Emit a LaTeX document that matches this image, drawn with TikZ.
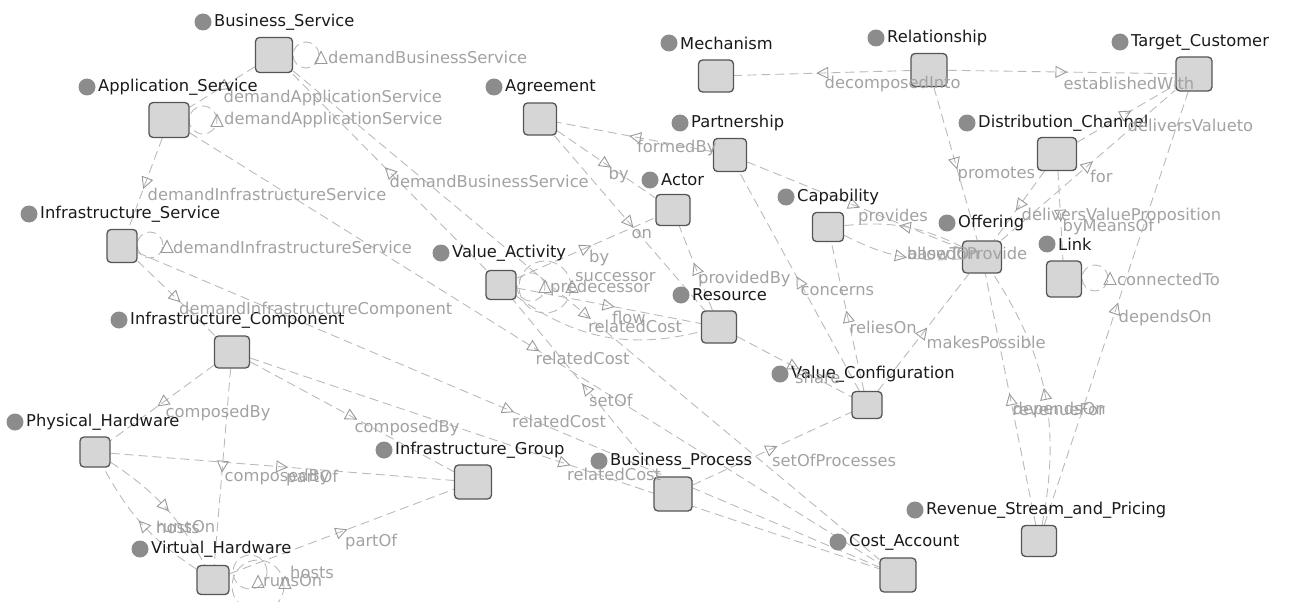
\documentclass[tikz,border=0pt]{standalone}
\usepackage{fontspec}
\setmainfont{DejaVu Sans}
\usetikzlibrary{arrows.meta,decorations.markings,calc}
\definecolor{boxf}{HTML}{D6D6D6}
\definecolor{boxd}{HTML}{555555}
\definecolor{dotc}{HTML}{8C8C8C}
\definecolor{clsc}{HTML}{1A1A1A}
\definecolor{edgec}{HTML}{BABABA}
\definecolor{labc}{HTML}{A2A2A2}
\definecolor{tric}{HTML}{9A9A9A}
\pgfdeclarelayer{bg}
\pgfsetlayers{bg,main}
\tikzset{
  box/.style={rectangle, rounded corners=4pt, draw=boxd, fill=boxf, line width=1.3pt, inner sep=0pt},
  dotn/.style={circle, fill=dotc, minimum size=17pt, inner sep=0pt},
  clab/.style={anchor=west, inner sep=0pt, text=clsc, font=\fontsize{16.3pt}{18pt}\selectfont},
  elab/.style={anchor=west, inner sep=0pt, text=labc, font=\fontsize{16.3pt}{18pt}\selectfont},
  edge/.style={draw=edgec, line width=0.9pt, dash pattern=on 9pt off 5pt},
  mid/.style={postaction={decorate, decoration={markings, mark=at position 0.5 with {\arrow[xshift=6pt, tric]{Triangle[open, length=12pt, width=12pt, line width=0.9pt]}}}}},
  tri/.style={draw=tric, line width=0.9pt},
}
\newcommand\cls[8]{%
  \node[dotn] (#1d) at (#3,#4) {};
  \node[clab] (#1t) at (#3+11,#4) {#2};
  \node[box, minimum width=#7pt, minimum height=#8pt] (#1) at (#5,#6) {};
}
\newcommand\edg[4][]{%
  \begin{pgfonlayer}{bg}\draw[edge,mid] (#2) to[#1] (#3);\end{pgfonlayer}
  \node[elab] (#2-#3-#4) at ($(#2)!0.5!(#3)+(2,11)$) {#4};
}
\newcommand\lptri[2]{\draw[tri] (#1-6,#2+5.5) -- (#1,#2-6.5) -- (#1+6,#2+5.5) -- cycle;}
\begin{document}
\begin{tikzpicture}[x=1pt,y=-1pt]
\useasboundingbox (0,0) rectangle (1294,602);
% classes
\cls{BS}{Business\_Service}{203}{22}{274}{55}{37}{35}
\cls{AS}{Application\_Service}{87}{87}{169}{120}{40}{35}
\cls{Agr}{Agreement}{494}{87}{540}{119}{33}{32}
\cls{Mech}{Mechanism}{669}{43}{716}{76}{35}{32}
\cls{Part}{Partnership}{680}{123}{730}{155}{33}{33}
\cls{Rel}{Relationship}{876}{38}{929}{70}{36}{33}
\cls{TC}{Target\_Customer}{1120}{42}{1194}{74}{36}{34}
\cls{DC}{Distribution\_Channel}{967}{123}{1057}{154}{39}{33}
\cls{Act}{Actor}{650}{180}{673}{210}{34}{31}
\cls{Cap}{Capability}{786}{197}{828}{227}{31}{29}
\cls{VA}{Value\_Activity}{441}{253}{501}{285}{30}{29}
\cls{Res}{Resource}{681}{295}{719}{327}{35}{32}
\cls{Off}{Offering}{947}{223}{982}{257}{39}{32}
\cls{Link}{Link}{1047}{244}{1064}{279}{35}{36}
\cls{IS}{Infrastructure\_Service}{29}{214}{122}{246}{30}{33}
\cls{IC}{Infrastructure\_Component}{119}{320}{232}{352}{35}{32}
\cls{VC}{Value\_Configuration}{780}{374}{867}{405}{30}{27}
\cls{PH}{Physical\_Hardware}{15}{422}{95}{452}{30}{30}
\cls{VH}{Virtual\_Hardware}{140}{549}{213}{580}{32}{29}
\cls{IG}{Infrastructure\_Group}{384}{450}{473}{482}{37}{34}
\cls{BP}{Business\_Process}{599}{461}{673}{494}{38}{34}
\cls{CA}{Cost\_Account}{838}{542}{898}{575}{36}{34}
\cls{Rev}{Revenue\_Stream\_and\_Pricing}{915}{510}{1039}{541}{35}{31}
% edges
\edg{Rel}{Mech}{decomposedInto}
\edg{Rel}{TC}{establishedWith}
\edg{Rel}{Off}{promotes}
\edg{DC}{TC}{deliversValueto}
\edg{Off}{TC}{for}
\edg{DC}{Off}{deliversValueProposition}
\edg{DC}{Link}{byMeansOf}
\edg{Rev}{TC}{dependsOn}
\edg{Rev}{Off}{revenueFor}
\edg[bend right=22]{Rev}{Off}{dependsOn}
\edg{Part}{Off}{provides}
\edg[bend right=16]{Off}{Cap}{basedOn}
\edg[bend right=16]{Cap}{Off}{allowToProvide}
\edg{VC}{Cap}{reliesOn}
\edg{VC}{Part}{concerns}
\edg{VC}{Off}{makesPossible}
\edg{Res}{VC}{share}
\edg{BP}{VC}{setOfProcesses}
\edg{Res}{Act}{providedBy}
\edg{Part}{Agr}{formedBy}
\edg{Agr}{Act}{by}
\edg{Agr}{Res}{on}
\edg{VA}{Act}{by}
\edg{VA}{Res}{flow}
\begin{pgfonlayer}{bg}\draw[edge] (VA) to[bend right=25] (Res);\end{pgfonlayer}
\edg{BS}{CA}{relatedCost}
\edg{AS}{CA}{relatedCost}
\edg{IS}{CA}{relatedCost}
\edg{IC}{CA}{relatedCost}
\edg{BP}{VA}{setOf}
\edg{VA}{BS}{demandBusinessService}
\edg{BS}{AS}{demandApplicationService}
\edg{AS}{IS}{demandInfrastructureService}
\edg{IS}{IC}{demandInfrastructureComponent}
\edg{IC}{PH}{composedBy}
\edg{IC}{VH}{composedBy}
\edg{IC}{IG}{composedBy}
\edg{PH}{IG}{partOf}
\edg{VH}{IG}{partOf}
\edg[bend left=14]{PH}{VH}{hosts}
\edg[bend left=14]{VH}{PH}{runsOn}
% self loops
\begin{pgfonlayer}{bg}
\draw[edge] (306,55) circle[radius=13pt];
\draw[edge] (203,120) circle[radius=14pt];
\draw[edge] (150,245) circle[radius=13pt];
\draw[edge] (1095,278) circle[radius=13pt];
\draw[edge] (250,572) circle[radius=17pt];
\draw[edge] (258,586) circle[radius=26pt];
\draw[edge] (531,287) circle[radius=14pt];
\draw[edge] (545,287) circle[radius=26pt];
\end{pgfonlayer}
\lptri{321}{58}
\node[elab] (lBS) at (328,57) {demandBusinessService};
\lptri{217}{121}
\node[elab] (lAS) at (224,120) {demandApplicationService};
\lptri{167}{247}
\node[elab] (lIS) at (173,247) {demandInfrastructureService};
\lptri{1110}{279}
\node[elab] (lLink) at (1117,279) {connectedTo};
\lptri{258}{582}
\node[elab] (lVH1) at (263,581) {runsOn};
\lptri{285}{583}
\node[elab] (lVH2) at (290,572) {hosts};
\lptri{545}{287}
\node[elab] (lVA1) at (550,288) {predecessor};
\lptri{572}{287}
\node[elab] (lVA2) at (575,277) {successor};
\end{tikzpicture}
\end{document}
